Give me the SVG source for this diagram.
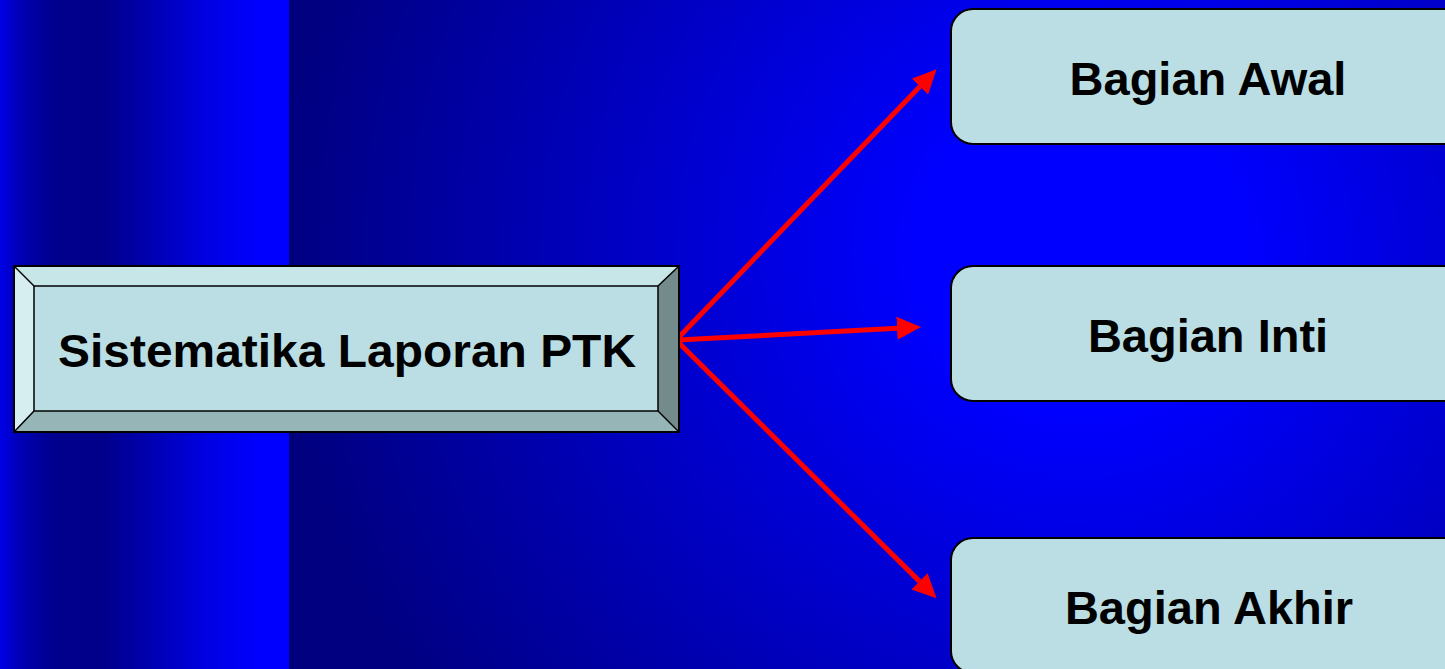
<svg xmlns="http://www.w3.org/2000/svg" width="1445" height="669" viewBox="0 0 1445 669">
<defs>
<linearGradient id="strip" x1="0" y1="0" x2="290" y2="0" gradientUnits="userSpaceOnUse">
<stop offset="0" stop-color="#0000e6"/>
<stop offset="0.07" stop-color="#0000b4"/>
<stop offset="0.18" stop-color="#00008e"/>
<stop offset="0.35" stop-color="#00008a"/>
<stop offset="0.5" stop-color="#0000ac"/>
<stop offset="0.7" stop-color="#0000e0"/>
<stop offset="0.9" stop-color="#0000ff"/>
<stop offset="1" stop-color="#0000ff"/>
</linearGradient>
<radialGradient id="main" cx="1080" cy="250" r="800" gradientUnits="userSpaceOnUse">
<stop offset="0" stop-color="#0000ff"/>
<stop offset="0.2" stop-color="#0000ff"/>
<stop offset="1" stop-color="#000080"/>
</radialGradient>
<marker id="head" viewBox="0 -12 24 24" refX="0" refY="0" markerWidth="24" markerHeight="24" markerUnits="userSpaceOnUse" orient="auto">
<path d="M0,-11.5 L24,0 L0,11.5 Z" fill="#ff0000"/>
</marker>
</defs>
<style>
.box{fill:#badee4;stroke:#000;stroke-width:2}
.lbl{font-family:"Liberation Sans",Arial,sans-serif;font-weight:bold;font-size:47px;fill:#000;text-anchor:middle}
.arrow{stroke:#ff0000;stroke-width:5;fill:none;marker-end:url(#head)}
.edge{stroke:#000;stroke-width:1.5;fill:none}
.face{fill:#badee4;stroke:#000;stroke-width:1.5}
</style>
<rect x="0" y="0" width="1445" height="669" fill="url(#main)"/>
<rect x="0" y="0" width="289" height="669" fill="url(#strip)"/>
<rect x="289" y="0" width="6" height="669" fill="#000070" opacity="0.5"/>

<g id="connectors">
<line class="arrow" x1="678" y1="338" x2="919.9" y2="86.6"/>
<line class="arrow" x1="678" y1="340" x2="897" y2="328.3"/>
<line class="arrow" x1="678" y1="342" x2="919.5" y2="581.4"/>
</g>

<g id="node-main">
<polygon points="14,266 679,266 658,286 34,286" fill="#c6e6e8"/>
<polygon points="14,266 34,286 34,411 14,432" fill="#d6eef0"/>
<polygon points="14,432 34,411 658,411 679,432" fill="#96b5b6"/>
<polygon points="679,266 679,432 658,411 658,286" fill="#748b8c"/>
<rect class="face" x="34" y="286" width="624" height="125"/>
<line class="edge" x1="14" y1="266" x2="34" y2="286"/>
<line class="edge" x1="679" y1="266" x2="658" y2="286"/>
<line class="edge" x1="14" y1="432" x2="34" y2="411"/>
<line class="edge" x1="679" y1="432" x2="658" y2="411"/>
<rect x="14" y="266" width="665" height="166" fill="none" stroke="#000" stroke-width="2"/>
<text class="lbl" x="347" y="367" font-size="48" textLength="578" lengthAdjust="spacingAndGlyphs">Sistematika Laporan PTK</text>
</g>

<g id="node-awal">
<rect class="box" x="951" y="9" width="520" height="135" rx="22" ry="22"/>
<text class="lbl" x="1208" y="95">Bagian Awal</text>
</g>
<g id="node-inti">
<rect class="box" x="951" y="266" width="520" height="135" rx="22" ry="22"/>
<text class="lbl" x="1208" y="352">Bagian Inti</text>
</g>
<g id="node-akhir">
<rect class="box" x="951" y="538" width="520" height="135" rx="22" ry="22"/>
<text class="lbl" x="1209" y="624">Bagian Akhir</text>
</g>
</svg>
